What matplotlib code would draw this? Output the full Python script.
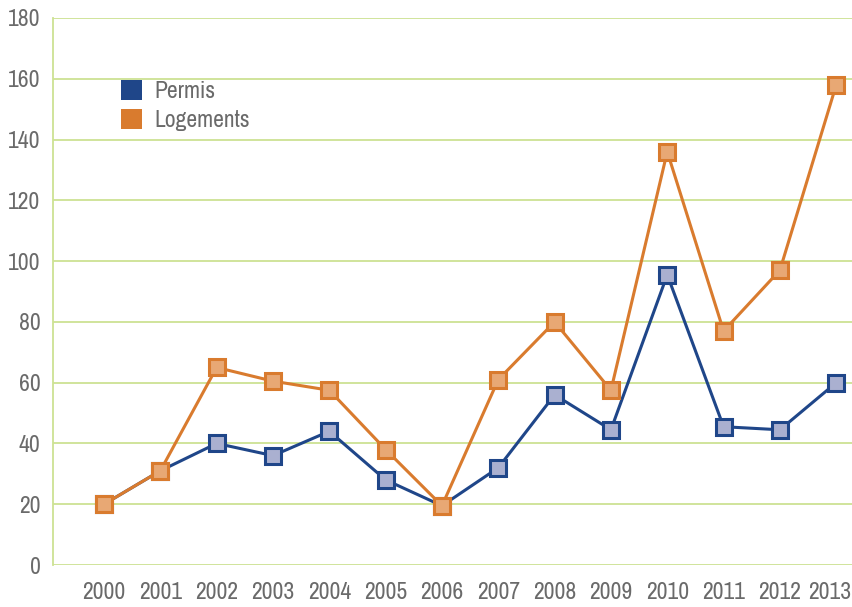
import matplotlib
matplotlib.use("Agg")
import matplotlib.pyplot as plt
import matplotlib.transforms as mtransforms
from matplotlib.patches import Patch

years = [2000, 2001, 2002, 2003, 2004, 2005, 2006, 2007, 2008, 2009, 2010, 2011, 2012, 2013]
permis = [20, 31, 40, 36, 44, 28, 19.5, 32, 56, 44.5, 95.5, 45.5, 44.5, 60]
logements = [20, 31, 65, 60.5, 57.5, 38, 19.5, 61, 80, 57.5, 136, 77, 97, 158]
yticks = [0, 20, 40, 60, 80, 100, 120, 140, 160, 180]

blue_edge = "#1f4689"
blue_fill = "#aab0d0"
orange_edge = "#d97b2e"
orange_fill = "#e8a874"
grid_col = "#cde293"
text_col = "#6a6a6a"

plt.rcParams['font.family'] = ['Archivo Narrow', 'Liberation Sans Narrow', 'DejaVu Sans']
FS = 17

fig = plt.figure(figsize=(8.52, 6.07), dpi=100)
ax = fig.add_axes([53/852, 42/607, (852-53)/852, 547/607])

x = list(range(len(years)))
ax.plot(x, permis, color=blue_edge, lw=2.2, marker='s', ms=12,
        mfc=blue_fill, mec=blue_edge, mew=2.2, zorder=3)
ax.plot(x, logements, color=orange_edge, lw=2.2, marker='s', ms=12,
        mfc=orange_fill, mec=orange_edge, mew=2.2, zorder=4)

ax.set_xlim(-0.906, 13.28)
ax.set_ylim(0, 180)
ax.set_yticks(yticks)
ax.set_xticks(x)
ax.set_xticklabels([str(y) for y in years])
ax.yaxis.grid(True, color=grid_col, lw=1.3)
ax.set_axisbelow(True)
for s in ['top', 'right', 'bottom']:
    ax.spines[s].set_visible(False)
ax.spines['left'].set_color(grid_col)
ax.spines['left'].set_linewidth(1.3)
ax.tick_params(axis='both', length=0, colors=text_col, labelsize=FS)
ax.tick_params(axis='x', pad=12)
ax.tick_params(axis='y', pad=9)

# nudge last x label so it stays inside the figure
last = ax.get_xticklabels()[-1]
last.set_transform(last.get_transform() +
                   mtransforms.ScaledTranslation(-7/100, 0, fig.dpi_scale_trans))

handles = [Patch(facecolor=blue_edge, edgecolor='none', label='Permis'),
           Patch(facecolor=orange_edge, edgecolor='none', label='Logements')]
leg = ax.legend(handles=handles, loc='upper left', bbox_to_anchor=(0.058, 0.925),
                frameon=False, fontsize=FS, handlelength=0.9, handleheight=0.9,
                handletextpad=0.55, labelspacing=0.3)
for t in leg.get_texts():
    t.set_color(text_col)

fig.savefig("out.png", dpi=100)
